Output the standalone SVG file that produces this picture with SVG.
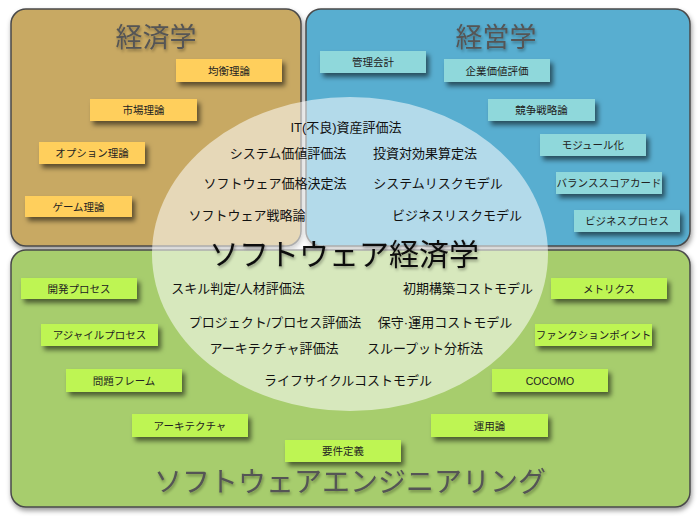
<svg xmlns="http://www.w3.org/2000/svg" width="700" height="516" viewBox="0 0 700 516">
<defs>
<filter id="sh" x="-20%" y="-40%" width="150%" height="200%">
<feDropShadow dx="3" dy="4" stdDeviation="2.5" flood-color="#000" flood-opacity="0.55"/>
</filter>
<filter id="psh" x="-5%" y="-5%" width="110%" height="115%">
<feDropShadow dx="1" dy="3" stdDeviation="2.5" flood-color="#000" flood-opacity="0.4"/>
</filter>
<filter id="tsh" x="-10%" y="-30%" width="120%" height="160%">
<feDropShadow dx="1" dy="2" stdDeviation="1.5" flood-color="#000" flood-opacity="0.35"/>
</filter>
</defs>
<style>
.panel{stroke:#4a4a4a;stroke-width:1.5;filter:url(#psh)}
.ptitle{font-family:"Noto Sans CJK JP",sans-serif;font-size:27px;fill:#555;text-anchor:middle;filter:url(#tsh)}
.n rect{filter:url(#sh)}
.ec rect{fill:#FFCF5C}
.mg rect{fill:#8FD8DB}
.se rect{fill:#BEF553}
.n text{font-family:"Liberation Sans","Noto Sans CJK JP",sans-serif;font-size:10.5px;fill:#222;text-anchor:middle;dominant-baseline:central}
.t{font-family:"Liberation Sans","Noto Sans CJK JP",sans-serif;font-size:13px;fill:#111;text-anchor:middle;dominant-baseline:central}
.big{font-family:"Noto Sans CJK JP",sans-serif;font-size:30px;fill:#111;text-anchor:middle;filter:url(#tsh)}
</style>
<rect width="700" height="516" fill="#fff"/>
<g id="panel-economics"><rect class="panel" x="11" y="9" width="290" height="237" rx="15" fill="#C8A964"/><text class="ptitle" x="156" y="47">経済学</text></g>
<g id="panel-management"><rect class="panel" x="306" y="9" width="384" height="237" rx="15" fill="#59AED0"/><text class="ptitle" x="496" y="47">経営学</text></g>
<g id="panel-se"><rect class="panel" x="11" y="250" width="679" height="257" rx="15" fill="#A7CD6D"/><text class="ptitle" x="350" y="492" style="font-size:28px">ソフトウェアエンジニアリング</text></g>

<g id="n-kinko" class="n ec"><rect x="176" y="59" width="106" height="23"/><text x="229" y="70.5">均衡理論</text></g>
<g id="n-shijo" class="n ec"><rect x="90" y="99" width="107" height="22"/><text x="143.5" y="110">市場理論</text></g>
<g id="n-option" class="n ec"><rect x="39" y="142" width="106" height="22"/><text x="92" y="153">オプション理論</text></g>
<g id="n-game" class="n ec"><rect x="25" y="196" width="107" height="21"/><text x="78.5" y="206.5">ゲーム理論</text></g>

<g id="n-kanri" class="n mg"><rect x="320" y="51" width="106" height="22"/><text x="373" y="62">管理会計</text></g>
<g id="n-kigyo" class="n mg"><rect x="444" y="59" width="106" height="23"/><text x="497" y="70.5">企業価値評価</text></g>
<g id="n-kyoso" class="n mg"><rect x="488" y="99" width="107" height="22"/><text x="541.5" y="110">競争戦略論</text></g>
<g id="n-module" class="n mg"><rect x="540" y="134" width="106" height="22"/><text x="593" y="145">モジュール化</text></g>
<g id="n-bsc" class="n mg"><rect x="556" y="172" width="106" height="22"/><text x="609" y="183">バランススコアカード</text></g>
<g id="n-bp" class="n mg"><rect x="574" y="210" width="106" height="22"/><text x="627" y="221">ビジネスプロセス</text></g>

<g id="n-kaihatsu" class="n se"><rect x="21" y="278" width="116" height="21"/><text x="79" y="288.5">開発プロセス</text></g>
<g id="n-agile" class="n se"><rect x="41" y="324" width="117" height="22"/><text x="99.5" y="335">アジャイルプロセス</text></g>
<g id="n-mondai" class="n se"><rect x="66" y="369" width="116" height="23"/><text x="124" y="380.5">問題フレーム</text></g>
<g id="n-arch" class="n se"><rect x="132" y="414" width="116" height="23"/><text x="190" y="425.5">アーキテクチャ</text></g>
<g id="n-yoken" class="n se"><rect x="285" y="440" width="116" height="22"/><text x="343" y="451">要件定義</text></g>
<g id="n-metrics" class="n se"><rect x="551" y="278" width="116" height="21"/><text x="609" y="288.5">メトリクス</text></g>
<g id="n-fp" class="n se"><rect x="535" y="324" width="117" height="22"/><text x="593.5" y="335">ファンクションポイント</text></g>
<g id="n-cocomo" class="n se"><rect x="492" y="369" width="116" height="23"/><text x="550" y="380.5">COCOMO</text></g>
<g id="n-unyo" class="n se"><rect x="431" y="414" width="117" height="23"/><text x="489.5" y="425.5">運用論</text></g>

<g id="swe-economics">
<ellipse cx="350" cy="254" rx="198" ry="157" fill="#fff" fill-opacity="0.55"/>
<text class="big" x="344" y="265">ソフトウェア経済学</text>
<text class="t" x="346" y="127">IT(不良)資産評価法</text>
<text class="t" x="288" y="153">システム価値評価法</text>
<text class="t" x="425" y="153">投資対効果算定法</text>
<text class="t" x="275" y="183">ソフトウェア価格決定法</text>
<text class="t" x="438" y="183">システムリスクモデル</text>
<text class="t" x="247" y="215">ソフトウェア戦略論</text>
<text class="t" x="457" y="215">ビジネスリスクモデル</text>
<text class="t" x="238" y="288">スキル判定/人材評価法</text>
<text class="t" x="468" y="288">初期構築コストモデル</text>
<text class="t" x="275" y="322">プロジェクト/プロセス評価法</text>
<text class="t" x="445" y="322">保守·運用コストモデル</text>
<text class="t" x="274" y="348">アーキテクチャ評価法</text>
<text class="t" x="425" y="348">スループット分析法</text>
<text class="t" x="348" y="380">ライフサイクルコストモデル</text>
</g>
</svg>
